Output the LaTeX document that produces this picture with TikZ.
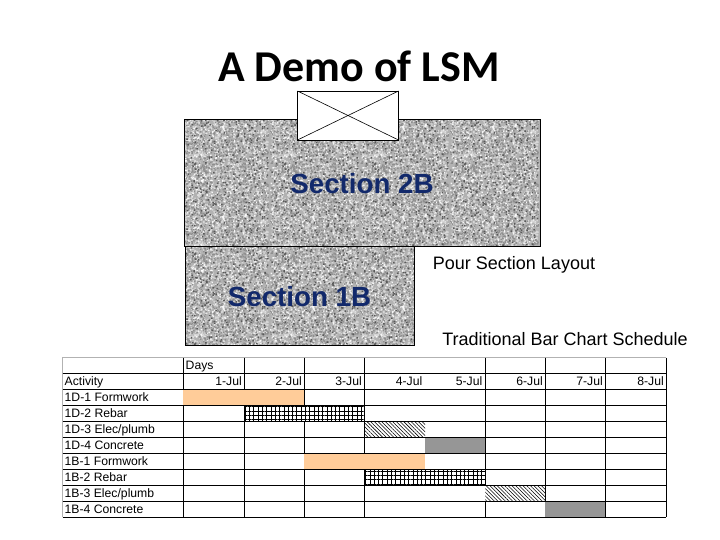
\documentclass[tikz,border=0pt]{standalone}
\usepackage{fontspec}
\setmainfont{Liberation Sans}
\newfontfamily\titlefont{Carlito}
\usetikzlibrary{patterns.meta}
\definecolor{sectionblue}{HTML}{12296B}
\definecolor{barorange}{HTML}{FFCC99}
\definecolor{bargray}{HTML}{969696}
\tikzset{
  sectionlabel/.style={font=\bfseries\fontsize{27.7}{27.7}\selectfont,text=sectionblue},
  notelabel/.style={font=\fontsize{18}{18}\selectfont},
  celllabel/.style={font=\fontsize{12.2}{12.2}\selectfont,inner sep=0pt,anchor=base west},
  daylabel/.style={font=\fontsize{12.2}{12.2}\selectfont,inner sep=0pt,anchor=base east},
  hatchbar/.style={pattern={Lines[angle=-45,distance=2.6,line width=.55]}},
  gridline/.style={line width=.8},
}
% one tone of speckle in a 90pt tile
\newcommand{\speckletile}[2]{
  \pgfdeclarepatternformonly{#1}{\pgfpointorigin}{\pgfpoint{90pt}{90pt}}{\pgfpoint{90pt}{90pt}}{
    \foreach \i in {1,...,#2} {
      \pgfmathsetmacro{\px}{rnd*88.5}
      \pgfmathsetmacro{\py}{rnd*88.5}
      \pgfpathrectangle{\pgfpoint{\px pt}{\py pt}}{\pgfpoint{1.5pt}{1.5pt}}
      \pgfusepath{fill}
    }
  }
}
\pgfmathsetseed{4242}
\speckletile{specklea}{800}
\speckletile{speckleb}{1000}
\speckletile{specklec}{1000}
\speckletile{speckled}{220}
\newcommand{\slab}[2]{
  \fill[black!30] #1 rectangle #2;
  \fill[pattern=specklea,pattern color=black!3] #1 rectangle #2;
  \fill[pattern=speckleb,pattern color=black!16] #1 rectangle #2;
  \fill[pattern=specklec,pattern color=black!44] #1 rectangle #2;
  \fill[pattern=speckled,pattern color=black!65] #1 rectangle #2;
  \draw[gridline] #1 rectangle #2;
}
\newcommand{\meshbar}[3]{
  \fill[white] (#1,#3) rectangle (#2,#3+16);
  \fill[pattern={Lines[angle=90,distance=4.3,line width=.6]}] (#1,#3) rectangle (#2,#3+16);
  \fill[pattern={Lines[angle=0,distance=4.3,line width=.6]}] (#1,#3) rectangle (#2,#3+16);
  \draw[line width=1] (#1,#3) rectangle (#2,#3+16);
}
\begin{document}
\begin{tikzpicture}[x=1pt,y=-1pt]
\useasboundingbox (0,0) rectangle (720,540);
\fill[white] (0,0) rectangle (720,540);
\node[font=\titlefont\bfseries\fontsize{44}{44}\selectfont] (title) at (359,66.5) {A Demo of LSM};
% slabs
\slab{(184.5,119.5)}{(540.5,246)}
\slab{(185.5,246)}{(414.5,345)}
\draw[fill=white,gridline] (297.5,91) rectangle (398.5,140);
\draw[line width=.6] (297.5,91) -- (398.5,140) (297.5,140) -- (398.5,91);
\node[sectionlabel] (sec2b) at (362,184) {Section 2B};
\node[sectionlabel] (sec1b) at (299.5,297) {Section 1B};
\node[notelabel] (layout) at (514,265) {Pour Section Layout};
\node[notelabel] (barchart) at (565,339) {Traditional Bar Chart Schedule};
% schedule grid
\draw[black!30,line width=.8] (62.7,373.3) -- (62.7,357.7) -- (666,357.7);
\draw[black!30,line width=.8] (62.7,373.3) -- (62.7,517.3);
\foreach \x in {183.3,244.3,304.3,364.5,485.3,545.3,605.3,666}
  \draw[gridline] (\x,357.7) -- (\x,517.3);
% bars
\fill[barorange] (183.3,389.3) rectangle (304.3,405.3);
\fill[barorange] (304.3,453.3) rectangle (425,469.3);
\meshbar{244.3}{364.5}{405.3}
\meshbar{364.5}{485.3}{469.3}
\fill[white] (364.5,421.3) rectangle (425,437.3);
\fill[hatchbar] (364.5,421.3) rectangle (425,437.3);
\fill[white] (485.3,485.3) rectangle (545.3,501.3);
\fill[hatchbar] (485.3,485.3) rectangle (545.3,501.3);
\fill[bargray] (425,437.3) rectangle (485.3,453.3);
\fill[bargray] (545.3,501.3) rectangle (605.3,517.3);
\foreach \y in {373.3,389.3,405.3,421.3,437.3,453.3,469.3,485.3,501.3,517.3}
  \draw[gridline] (62.7,\y) -- (666,\y);
% labels
\node[celllabel] (days) at (185.5,369.5) {Days};
\node[celllabel] (activity) at (64.5,385.5) {Activity};
\foreach \y/\lab [count=\r] in {
  401.5/{1D-1 Formwork},
  417.5/{1D-2 Rebar},
  433.5/{1D-3 Elec{/}plumb},
  449.5/{1D-4 Concrete},
  465.5/{1B-1 Formwork},
  481.5/{1B-2 Rebar},
  497.5/{1B-3 Elec{/}plumb},
  513.5/{1B-4 Concrete}}
  \node[celllabel] (act\r) at (64.5,\y) {\lab};
\foreach \x/\lab [count=\c] in {
  242/1-Jul,302/2-Jul,362/3-Jul,422.5/4-Jul,482.5/5-Jul,543/6-Jul,603/7-Jul,664/8-Jul}
  \node[daylabel] (day\c) at (\x,385.5) {\lab};
\end{tikzpicture}
\end{document}
